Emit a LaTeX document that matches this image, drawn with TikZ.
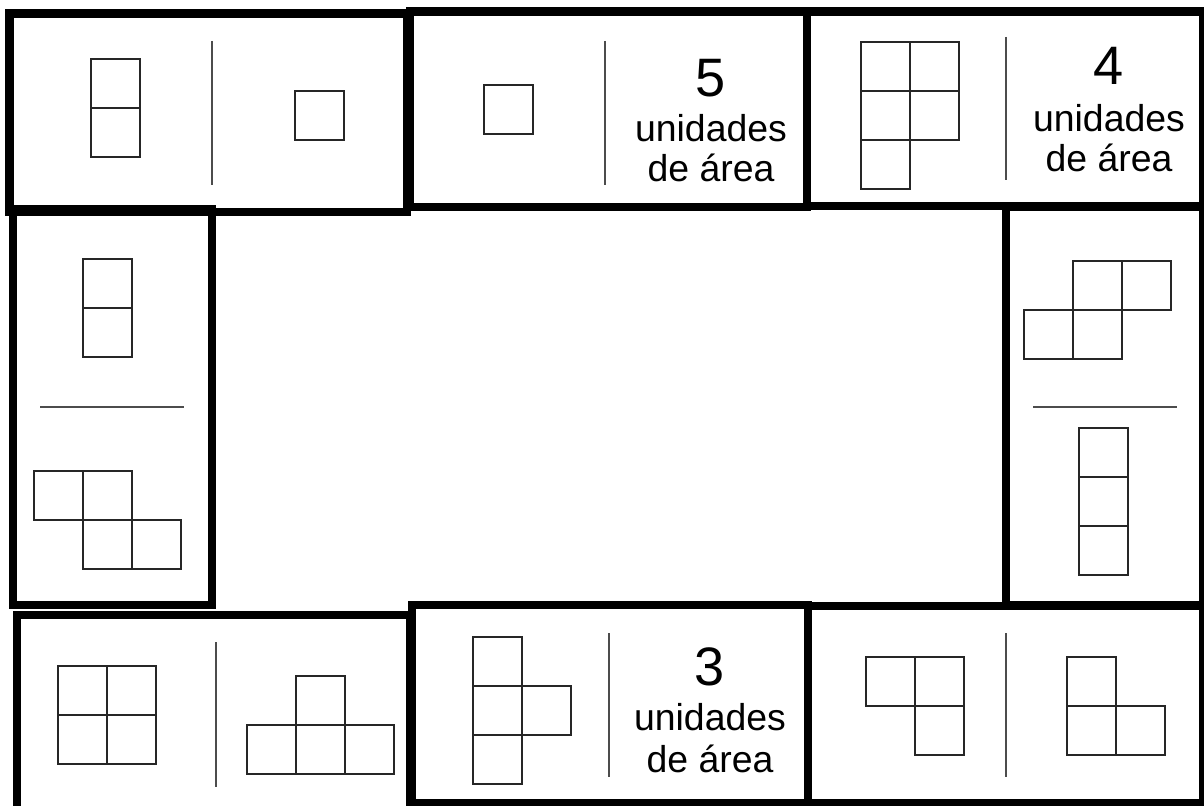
\documentclass[tikz,border=0pt]{standalone}
\usepackage{fontspec}
\setmainfont{Liberation Sans}
\newcommand{\unitsq}[2]{\draw[cell] (#1,#2) rectangle ++(49,49);}
\begin{document}
\begin{tikzpicture}[x=0.025cm, y=-0.025cm,
	frame/.style = {draw, line width=6.3pt},
	cell/.style = {draw=black!85, line width=0.95pt},
	divider/.style = {draw=black!70, line width=1.3pt},
	digit/.style = {anchor=base, inner sep=0pt, font=\fontsize{38.5}{40}\selectfont},
	word/.style = {anchor=base, inner sep=0pt, font=\fontsize{26.6}{28}\selectfont}]
	\useasboundingbox (0,0) rectangle (1204,806);

	% Frames
	\draw[frame] (9.5,13.5) rectangle (407,212);
	\draw[frame] (410,11.5) rectangle (807,207);
	\draw[frame] (807,11.5) rectangle (1203,206);
	\draw[frame] (13,209) rectangle (212,605);
	\draw[frame] (1006,207) rectangle (1203,605);
	\draw[frame] (17,830) -- (17,615) -- (410,615) -- (410,830);
	\draw[frame] (412,605) rectangle (808,803);
	\draw[frame] (808,606) rectangle (1203,803);

	% Dividers
	\draw[divider] (212,41) -- (212,185);
	\draw[divider] (605,41) -- (605,185);
	\draw[divider] (1006,37) -- (1006,180);
	\draw[divider] (40,407) -- (184,407);
	\draw[divider] (1033,407) -- (1177,407);
	\draw[divider] (216,642) -- (216,787);
	\draw[divider] (609,633) -- (609,777);
	\draw[divider] (1006,633) -- (1006,777);

	% Top row
	\foreach \x/\y in {91/59, 91/108, 295/91, 484/85,
		861/42, 910/42, 861/91, 910/91, 861/140}
		{\unitsq{\x}{\y}}

	% Side columns
	\foreach \x/\y in {83/259, 83/308, 34/471, 83/471, 83/520, 132/520,
		1073/261, 1122/261, 1024/310, 1073/310,
		1079/428, 1079/477, 1079/526}
		{\unitsq{\x}{\y}}

	% Bottom row
	\foreach \x/\y in {58/666, 107/666, 58/715, 107/715,
		296/676, 247/725, 296/725, 345/725,
		473/637, 473/686, 473/735, 522/686,
		866/657, 915/657, 915/706,
		1067/657, 1067/706, 1116/706}
		{\unitsq{\x}{\y}}

	% Labels
	\node[digit] (n5) at (711,97) {5};
	\node[word] (u5) at (711,142) {unidades};
	\node[word] (a5) at (711,182) {de área};

	\node[digit] (n4) at (1109,85) {4};
	\node[word] (u4) at (1109,132) {unidades};
	\node[word] (a4) at (1109,172) {de área};

	\node[digit] (n3) at (710,685) {3};
	\node[word] (u3) at (710,730) {unidades};
	\node[word] (a3) at (710,772) {de área};
\end{tikzpicture}
\end{document}
